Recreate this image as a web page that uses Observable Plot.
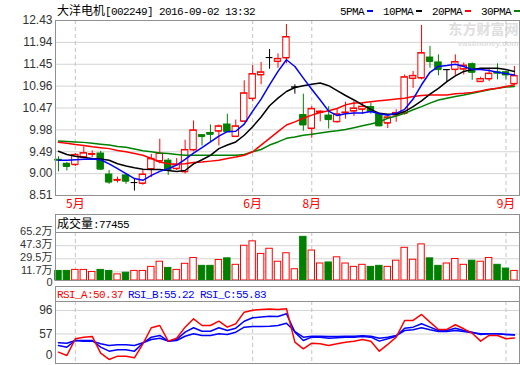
<!DOCTYPE html>
<html><head><meta charset="utf-8">
<script src="https://cdn.jsdelivr.net/npm/d3@7"></script>
<script src="https://cdn.jsdelivr.net/npm/@observablehq/plot@0.6"></script>
<style>
body{margin:0;background:#fff;}
#wrap{position:relative;width:520px;height:365px;overflow:hidden;background:#fff;font-family:"Liberation Sans","Noto Sans CJK SC",sans-serif;}
.abs{position:absolute;white-space:nowrap;line-height:14px;}
.mono{font-family:"Liberation Mono","DejaVu Sans Mono",monospace;font-size:11px;letter-spacing:-0.6px;}
.cjk{font-family:"Noto Sans CJK SC",sans-serif;font-size:12px;}
.strip{position:absolute;box-sizing:border-box;border:1px solid #909090;border-bottom:none;}
</style></head>
<body><div id="wrap"></div>
<script>
// ---------- data ----------
const stockName = "大洋电机";
const stockInfo = "[002249] 2016-09-02 13:32";
const maNames = ["5PMA", "10PMA", "20PMA", "30PMA"];
const priceTicks = [8.51, 9.00, 9.49, 9.98, 10.47, 10.96, 11.45, 11.94, 12.43];
const monthTicks = [2, 23, 30, 53];
const monthLabels = ["5月", "6月", "8月", "9月"];
const watermark = ["东方财富网", "eastmoney.com"];

const open  = [9.31,9.22,9.20,9.37,9.43,9.45,8.98,8.85,8.96,8.80, 8.78,9.10,9.28,9.29,9.11,9.04,9.53,9.86,9.91,9.95, 10.10,9.83,10.17,10.68,11.21,11.60,11.51,11.59,10.94,10.31, 10.01,10.37,10.30,10.16,10.36,10.40,10.44,10.49,10.33,10.13, 10.31,10.35,11.13,11.14,11.60,11.49,11.33,11.33,11.34,11.45, 11.06,11.12,11.27,11.27,11.01];
const high  = [9.38,9.25,9.45,9.60,9.51,9.50,9.07,8.92,9.00,8.89, 9.07,9.43,9.77,9.34,9.34,9.75,10.18,9.87,10.09,10.09, 10.33,10.20,11.08,11.42,11.49,11.78,11.68,12.34,10.99,10.78, 10.50,10.41,10.50,10.45,10.60,10.62,10.58,10.58,10.35,10.27, 10.43,11.21,11.29,12.32,11.85,11.66,11.33,11.66,11.48,11.48, 11.16,11.36,11.46,11.29,11.40];
const low   = [9.04,9.06,9.16,9.37,9.36,9.07,8.76,8.79,8.76,8.61, 8.74,8.91,9.22,8.96,9.07,8.99,9.49,9.62,9.72,9.62, 9.92,9.81,10.16,10.61,10.99,11.34,11.36,11.46,10.78,9.95, 9.79,10.16,10.00,10.13,10.22,10.28,10.33,10.33,10.05,10.01, 10.15,10.31,10.91,11.10,11.36,11.19,11.06,11.20,11.21,11.09, 11.05,11.06,11.10,11.10,11.01];
const close = [9.30,9.16,9.42,9.46,9.44,9.10,8.81,8.86,8.83,8.80, 8.98,9.33,9.45,9.07,9.20,9.53,9.97,9.83,9.88,10.06, 9.94,10.06,10.80,11.23,11.27,11.60,11.57,12.06,10.94,10.09, 10.45,10.39,10.21,10.33,10.37,10.46,10.50,10.39,10.07,10.26, 10.36,11.16,11.19,11.70,11.51,11.33,11.33,11.50,11.42,11.27, 11.12,11.24,11.25,11.21,11.19];

const ma5  = [9.30,9.30,9.31,9.32,9.33,9.31,9.22,9.11,9.00,8.89, 8.85,8.96,9.05,9.11,9.19,9.32,9.46,9.58,9.71,9.84, 9.94,9.95,10.11,10.40,10.67,10.99,11.29,11.55,11.40,11.14, 10.89,10.65,10.40,10.30,10.34,10.36,10.36,10.39,10.34,10.31, 10.35,10.44,10.67,10.99,11.27,11.40,11.42,11.45,11.40,11.33, 11.33,11.31,11.27,11.24,11.21];
const ma10 = [9.50,9.43,9.39,9.36,9.34,9.33,9.30,9.22,9.17,9.13, 9.10,9.09,9.09,9.07,9.05,9.07,9.22,9.31,9.41,9.56, 9.64,9.71,9.86,10.05,10.27,10.52,10.69,10.84,10.93,10.97, 11.00,11.03,10.97,10.86,10.75,10.65,10.54,10.44,10.35,10.33, 10.33,10.39,10.50,10.63,10.78,10.91,11.06,11.19,11.29,11.33, 11.36,11.36,11.36,11.33,11.29];
const ma20 = [9.70,9.68,9.65,9.63,9.60,9.58,9.56,9.52,9.49,9.45, 9.41,9.34,9.26,9.22,9.21,9.22,9.25,9.26,9.28,9.30, 9.34,9.37,9.41,9.49,9.64,9.79,9.94,10.09,10.16,10.24, 10.31,10.37,10.41,10.46,10.54,10.58,10.59,10.61,10.63,10.65, 10.67,10.69,10.73,10.75,10.76,10.76,10.76,10.79,10.80,10.82, 10.85,10.89,10.91,10.95,10.99];
const ma30 = [9.73,9.72,9.71,9.70,9.68,9.66,9.64,9.61,9.59,9.55, 9.51,9.49,9.46,9.45,9.43,9.41,9.41,9.41,9.41,9.41, 9.41,9.41,9.43,9.49,9.54,9.64,9.71,9.79,9.82,9.86, 9.88,9.91,9.94,9.96,9.99,10.03,10.07,10.11,10.16,10.24, 10.29,10.35,10.43,10.50,10.58,10.65,10.69,10.73,10.76,10.80, 10.84,10.88,10.91,10.94,10.95];

const volTitle = "成交量:77455";
const volume = [13.0,13.0,14.4,14.4,11.6,14.4,13.0,8.3,10.6,13.0, 13.0,18.5,25.5,17.1,14.4,22.7,30.6,19.9,19.9,27.8, 30.1,21.3,47.2,53.2,36.1,43.1,25.5,37.0,15.3,59.3, 40.7,23.1,24.5,31.5,23.1,18.5,21.3,18.5,19.9,18.5, 26.9,44.4,28.2,49.1,30.1,19.9,23.1,29.2,21.3,26.9, 25.5,30.6,21.3,16.2,13.0];
const volTicks = [11.7, 29.5, 47.3, 65.2];
const volLabels = ["11.7万", "29.5万", "47.3万", "65.2万"];
const volBottomLabel = "0";

const rsiTitles = ["RSI_A:50.37", "RSI_B:55.22", "RSI_C:55.83"];
const rsiA = [26.8,21.3,49.0,51.7,52.9,25.1,14.7,20.2,20.2,17.5, 40.7,67.3,71.1,45.1,50.0,68.3,82.2,71.1,71.1,78.2, 68.3,73.9,93.2,96.5,97.5,98.5,97.5,99.0,43.4,32.4, 41.7,40.7,37.9,40.7,43.4,45.1,47.9,45.1,28.5,39.6, 51.7,79.4,79.4,89.4,76.6,64.5,64.5,72.3,65.6,58.3, 45.1,54.5,54.5,49.0,50.37];
const rsiB = [37.9,35.1,46.2,46.2,46.2,35.1,28.5,30.8,30.8,28.5, 41.7,51.7,54.5,45.1,47.9,60.0,67.3,61.6,61.6,67.3, 62.8,66.6,78.2,83.9,85.2,86.5,86.0,90.5,60.0,46.2, 51.7,51.7,50.0,50.7,51.7,51.7,52.9,51.7,45.1,49.0, 53.3,66.6,68.3,73.9,68.3,62.8,62.8,66.6,62.8,60.0, 56.2,57.3,57.3,56.2,55.22];
const rsiC = [42.4,41.7,46.2,45.1,45.1,40.7,37.9,39.1,39.1,37.9, 42.4,47.9,50.0,45.1,46.2,53.3,57.3,54.5,54.5,57.3, 56.2,60.0,68.3,69.4,69.4,69.9,71.1,74.9,61.1,51.7, 53.3,53.3,52.9,52.9,53.3,53.3,54.0,53.3,50.0,51.7, 54.5,62.8,64.0,67.3,64.0,61.1,61.1,62.8,61.1,59.0, 57.3,57.3,57.3,56.2,55.83];
const rsiTicks = [57, 96];
const rsiBottomLabel = "0";

// ---------- style ----------
const RED = "#ff0000", GREEN = "#008000", BLUE = "#0000ff", BLACK = "#000000";
const FRAME = "#909090", GRID = "#d4d4d4", DASH = "#c4c4c4";
const maColors = [BLUE, BLACK, RED, GREEN];
const W = 520, xDomain = [-0.35, 54.6], bw = 0.38;
const baseStyle = {background: "transparent", overflow: "visible", fontFamily: "'Liberation Sans','Noto Sans CJK SC',sans-serif", fontSize: "12px"};

const rows = close.map((c, i) => ({i, o: open[i], h: high[i], l: low[i], c, v: volume[i]}));
const candleColor = d => d.c > d.o ? RED : d.c < d.o ? GREEN : BLACK;
const candleFill = d => d.c > d.o ? "#fff" : candleColor(d);
const volColor = d => d.c >= d.o ? RED : GREEN;
const volFill = d => d.c >= d.o ? "#fff" : GREEN;
const series = arr => arr.map((v, i) => ({i, v}));
const wrap = document.getElementById("wrap");

function place(svg, top) {
  svg.style.position = "absolute"; svg.style.left = "0px"; svg.style.top = top + "px";
  wrap.appendChild(svg);
}
function div(cls, style, html) {
  const e = document.createElement("div"); e.className = cls; e.setAttribute("style", style);
  if (html != null) e.innerHTML = html; wrap.appendChild(e); return e;
}

// ---------- main chart ----------
const main = Plot.plot({
  width: W, height: 212, marginLeft: 55, marginRight: 1, marginTop: 20, marginBottom: 17,
  x: {domain: xDomain}, y: {domain: [8.51, 12.43]}, style: baseStyle,
  marks: [
    Plot.text([watermark[0]], {frameAnchor: "top-right", dx: -1, dy: 9, lineAnchor: "middle", fill: "#dedede", fontSize: 14, fontWeight: "bold", fontFamily: "Noto Sans CJK SC"}),
    Plot.text([watermark[1]], {frameAnchor: "top-right", dx: -1, dy: 23, lineAnchor: "middle", fill: "#dedede", fontSize: 8, fontWeight: "bold", fontStyle: "italic"}),
    Plot.ruleY(priceTicks.slice(1, -1), {stroke: GRID}),
    Plot.ruleX(monthTicks, {stroke: DASH, strokeDasharray: "4,3"}),
    Plot.axisY(priceTicks, {tickSize: 0, tickPadding: 3, tickFormat: d => d.toFixed(2), color: "#333", label: null, fontSize: 12}),
    Plot.axisX(monthTicks, {tickSize: 0, tickPadding: 4, tickFormat: d => monthLabels[monthTicks.indexOf(d)], color: RED, label: null, fontSize: 12, fontFamily: "Noto Sans CJK SC"}),
    Plot.ruleX(rows, {x: "i", y1: "l", y2: "h", stroke: candleColor}),
    Plot.rect(rows, {x1: d => d.i - bw, x2: d => d.i + bw, y1: "o", y2: "c", fill: candleFill, stroke: candleColor}),
    Plot.ruleY(rows, {y: "o", x1: d => d.i - bw, x2: d => d.i + bw, stroke: candleColor}),
    Plot.ruleY(rows, {y: "c", x1: d => d.i - bw, x2: d => d.i + bw, stroke: candleColor}),
    Plot.line(series(ma30), {x: "i", y: "v", stroke: GREEN}),
    Plot.line(series(ma20), {x: "i", y: "v", stroke: RED}),
    Plot.line(series(ma10), {x: "i", y: "v", stroke: BLACK}),
    Plot.line(series(ma5), {x: "i", y: "v", stroke: BLUE}),
    Plot.frame({stroke: FRAME})
  ]
});
place(main, 0);

// ---------- volume ----------
const vol = Plot.plot({
  width: W, height: 74, marginLeft: 55, marginRight: 1, marginTop: 18, marginBottom: 8,
  x: {domain: xDomain, axis: null}, y: {domain: [0, 65.2]}, style: baseStyle,
  marks: [
    Plot.ruleY(volTicks.slice(0, -1), {stroke: GRID}),
    Plot.ruleX(monthTicks, {stroke: DASH, strokeDasharray: "4,3"}),
    Plot.axisY(volTicks, {tickSize: 0, tickPadding: 3, dy: -1, tickFormat: d => volLabels[volTicks.indexOf(d)], color: "#333", label: null, fontSize: 11}),
    Plot.text([volBottomLabel], {frameAnchor: "bottom-left", dx: -3, dy: 2, textAnchor: "end", lineAnchor: "middle", fill: "#333", fontSize: 11}),
    Plot.rect(rows, {x1: d => d.i - bw, x2: d => d.i + bw, y1: 0, y2: "v", fill: volFill, stroke: volColor}),
    Plot.frame({stroke: FRAME})
  ]
});
place(vol, 214);

// ---------- RSI ----------
const rsi = Plot.plot({
  width: W, height: 79, marginLeft: 55, marginRight: 1, marginTop: 15, marginBottom: 2,
  x: {domain: xDomain, axis: null}, y: {domain: [8.0, 110.9]}, style: baseStyle,
  marks: [
    Plot.ruleY(rsiTicks, {stroke: GRID}),
    Plot.ruleX(monthTicks, {stroke: DASH, strokeDasharray: "4,3"}),
    Plot.axisY(rsiTicks, {tickSize: 0, tickPadding: 3, color: "#333", label: null, fontSize: 12}),
    Plot.text([rsiBottomLabel], {frameAnchor: "bottom-left", dx: -3, dy: -8, textAnchor: "end", lineAnchor: "middle", fill: "#333", fontSize: 12}),
    Plot.line(series(rsiC), {x: "i", y: "v", stroke: BLUE}),
    Plot.line(series(rsiB), {x: "i", y: "v", stroke: BLUE}),
    Plot.line(series(rsiA), {x: "i", y: "v", stroke: RED}),
    Plot.frame({stroke: FRAME})
  ]
});
place(rsi, 286);

// ---------- texts ----------
div("abs", "left:57px;top:3px;color:#000", `<span class="cjk">${stockName}</span><span class="mono">${stockInfo}</span>`);
const leg = div("abs", "left:340px;top:3px;display:flex;gap:10px;color:#000");
maNames.forEach((n, k) => {
  const s = document.createElement("span");
  s.innerHTML = `<span class="mono">${n}</span><span style="display:inline-block;width:6px;height:2px;background:${maColors[k]};margin-left:3px;vertical-align:middle"></span>`;
  leg.appendChild(s);
});
div("strip", "left:55px;top:214px;width:465px;height:19px");
div("abs", "left:57px;top:216px;color:#000", `<span class="cjk">${volTitle.slice(0,3)}</span><span class="mono">${volTitle.slice(3)}</span>`);
div("strip", "left:55px;top:286px;width:465px;height:16px");
const rsiColors = [RED, BLUE, BLUE], rsiLeft = [57, 128, 200];
rsiTitles.forEach((t, k) => div("abs mono", `left:${rsiLeft[k]}px;top:288px;color:${rsiColors[k]}`, t));
</script>
</body></html>
